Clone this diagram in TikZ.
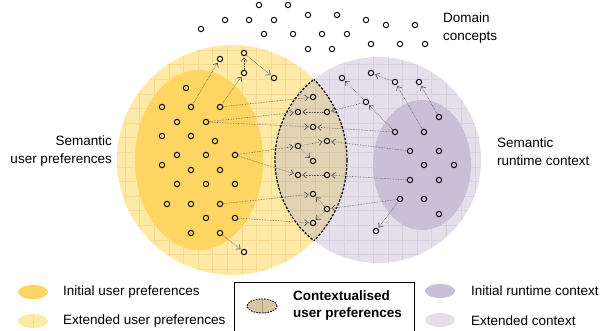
\documentclass[tikz,border=0pt]{standalone}
\usepackage{fontspec}
\setmainfont{Liberation Sans}
\usetikzlibrary{arrows.meta}
\definecolor{ylight}{HTML}{FEE9A6}
\definecolor{ydark}{HTML}{FED562}
\definecolor{plight}{HTML}{E4DFEA}
\definecolor{pdark}{HTML}{C9BFD6}
\definecolor{lensc}{HTML}{E3D3B5}
\definecolor{lenslg}{HTML}{D9C6A5}
\definecolor{ygrid}{HTML}{F9DB90}
\definecolor{pgrid}{HTML}{D8D1E0}
\definecolor{lgrid}{HTML}{D7C7AA}
\newcommand\mygrid[1]{%
  \foreach \k in {0,...,27} \draw[#1] ({110.4+14.6*\k},30) -- ({110.4+14.6*\k},285);
  \foreach \k in {0,...,17} \draw[#1] (100,{35.4+14.6*\k}) -- (500,{35.4+14.6*\k});
}
\begin{document}
\begin{tikzpicture}[x=1pt,y=-1pt,
  dot/.style={circle,draw=black,line width=0.95pt,inner sep=0pt,minimum size=5.4pt},
  arr/.style={draw=black!65,line width=0.6pt,densely dotted,
    -{Straight Barb[length=3.5pt,width=6pt,line width=0.7pt]},shorten >=1.2pt},
  lbl/.style={font=\fontsize{13.5}{18}\selectfont,inner sep=0pt},
  lensline/.style={draw=black,line width=1.2pt,dash pattern=on 2.4pt off 1.6pt},
]
\useasboundingbox (0,0) rectangle (600,330);
% big circles
\fill[ylight] (232,160) circle[radius=115pt];
\fill[plight] (378,160) circle[radius=103pt];
\begin{scope}
  \clip (232,160) circle[radius=115pt];
  \fill[lensc] (378,160) circle[radius=103pt];
\end{scope}
% grids
\begin{scope}
  \clip (232,160) circle[radius=115pt];
  \mygrid{ygrid,line width=0.6pt}
\end{scope}
\begin{scope}
  \clip (378,160) circle[radius=103pt];
  \mygrid{pgrid,line width=0.6pt}
\end{scope}
\begin{scope}
  \clip (232,160) circle[radius=115pt];
  \clip (378,160) circle[radius=103pt];
  \mygrid{lgrid,line width=0.6pt}
\end{scope}
% inner ellipses
\fill[ydark] (199,160) ellipse[x radius=64pt,y radius=90pt];
\fill[pdark] (422,165) ellipse[x radius=49pt,y radius=65pt];
% lens border
\begin{scope}
  \clip (232,160) circle[radius=115pt];
  \draw[lensline] (378,160) circle[radius=103pt];
\end{scope}
\begin{scope}
  \clip (378,160) circle[radius=103pt];
  \draw[lensline] (232,160) circle[radius=115pt];
\end{scope}
% domain concepts
\foreach \x/\y [count=\i] in {259/5,288/5,308/15,337/15,225/20,249/20,274/20,366/20,386/25,415/25,201/29,264/34,293/34,322/34,347/34,371/44,400/44,425/44,308/49,332/49}
  \node[dot] (c\i) at (\x,\y) {};
% left extended
\node[dot] (e1) at (220,59) {};
\node[dot] (e2) at (244,53) {};
\node[dot] (e3) at (244,73) {};
\node[dot] (e4) at (274,78) {};
\node[dot] (e5) at (244,252) {};
% left initial
\node[dot] (ua) at (191,107) {};
\node[dot] (ub) at (220,107) {};
\node[dot] (uc) at (206,122) {};
\node[dot] (ud) at (235,155) {};
\node[dot] (ue) at (220,204) {};
\node[dot] (uf) at (235,218) {};
\node[dot] (ug) at (220,233) {};
\foreach \x/\y [count=\i] in {186/88,162/107,177/122,162/136,191/136,215/141,177/155,206/155,162/165,191/170,220/170,177/184,206/184,235/184,167/204,191/204,206/218,191/233}
  \node[dot] (u\i) at (\x,\y) {};
% lens
\node[dot] (l1) at (313,97) {};
\node[dot] (l2) at (298,112) {};
\node[dot] (l3) at (327,112) {};
\node[dot] (l4) at (313,127) {};
\node[dot] (l5) at (327,141) {};
\node[dot] (l6) at (298,146) {};
\node[dot] (l7) at (313,161) {};
\node[dot] (l8) at (298,175) {};
\node[dot] (l9) at (327,175) {};
\node[dot] (l10) at (313,194) {};
\node[dot] (l11) at (327,209) {};
\node[dot] (l12) at (313,223) {};
% right extended
\node[dot] (p1) at (342,78) {};
\node[dot] (p2) at (371,73) {};
\node[dot] (p3) at (395,82) {};
\node[dot] (p4) at (419,82) {};
\node[dot] (p5) at (366,102) {};
\node[dot] (p6) at (376,231) {};
% right initial
\node[dot] (r1) at (439,117) {};
\node[dot] (r2) at (395,132) {};
\node[dot] (r3) at (424,132) {};
\node[dot] (r4) at (410,151) {};
\node[dot] (r5) at (410,180) {};
\node[dot] (r6) at (400,199) {};
\foreach \x/\y [count=\i] in {439/151,424/165,454/165,439/180,424/199,439/214}
  \node[dot] (q\i) at (\x,\y) {};
% arrows
\draw[arr] (ua) -- (e1);
\draw[arr] (ub) -- (e3);
\draw[arr] (e3) -- (e2);
\draw[arr] (e2) -- (e4);
\draw[arr] (ub) -- (l1);
\draw[arr] (uc) -- (l2);
\draw[arr] (uc) -- (l4);
\draw[arr] (ud) -- (l6);
\draw[arr] (ud) -- (l8);
\draw[arr] (l6) -- (l5);
\draw[arr] (l6) -- (l7);
\draw[arr] (ue) -- (l10);
\draw[arr] (uf) -- (l12);
\draw[arr] (ug) -- (e5);
\draw[arr] (p5) -- (l3);
\draw[arr] (l3) -- (l2);
\draw[arr] (p5) -- (p1);
\draw[arr] (r2) -- (p5);
\draw[arr] (p3) -- (p2);
\draw[arr] (r3) -- (p3);
\draw[arr] (r1) -- (p4);
\draw[arr] (r2) -- (l4);
\draw[arr] (r4) -- (l5);
\draw[arr] (r5) -- (l9);
\draw[arr] (l9) -- (l8);
\draw[arr] (r6) -- (l11);
\draw[arr] (l11) -- (l10);
\draw[arr] (l11) -- (l12);
\draw[arr] (r6) -- (p6);
% labels
\node[lbl,align=left,anchor=west] (dom) at (443,28) {Domain\\concepts};
\node[lbl,align=right,anchor=east] (sup) at (112,151) {Semantic\\user preferences};
\node[lbl,align=left,anchor=west] (src) at (497,152) {Semantic\\runtime context};
% legend
\fill[ydark] (33,292) ellipse[x radius=15pt,y radius=7pt];
\fill[ylight] (33,321) ellipse[x radius=15pt,y radius=7pt];
\draw[ygrid,line width=0.6pt] (33,314) -- (33,328);
\node[lbl,anchor=west] (lg1) at (63,292) {Initial user preferences};
\node[lbl,anchor=west] (lg2) at (63,321) {Extended user preferences};
\draw[line width=0.9pt] (234,282) rectangle (414,333);
\fill[lenslg] (262,306) ellipse[x radius=15pt,y radius=7pt];
\draw[lgrid!80!black,line width=0.6pt] (262,299.5) -- (262,312.5);
\draw[black,line width=0.9pt,dash pattern=on 1.6pt off 1.2pt] (262,306) ellipse[x radius=15pt,y radius=7pt];
\node[lbl,anchor=west,align=left,font=\fontsize{13.5}{17}\selectfont\bfseries] (lg3) at (293,306) {Contextualised\\user preferences};
\fill[pdark] (440,291) ellipse[x radius=15pt,y radius=7pt];
\fill[plight] (440,320) ellipse[x radius=15pt,y radius=7pt];
\node[lbl,anchor=west] (lg4) at (471,291) {Initial runtime context};
\node[lbl,anchor=west] (lg5) at (471,321) {Extended context};
\end{tikzpicture}
\end{document}
